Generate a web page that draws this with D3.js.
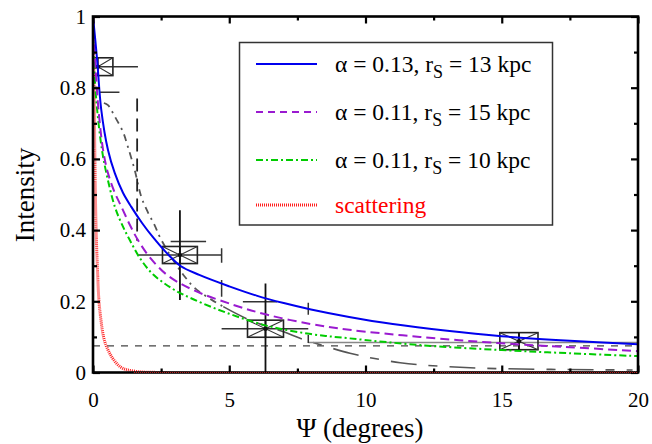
<!DOCTYPE html>
<html>
<head>
<meta charset="utf-8">
<script src="https://cdn.jsdelivr.net/npm/d3@7"></script>
<style>
  html, body { margin: 0; padding: 0; background: #fff; }
  svg { display: block; }
</style>
</head>
<body>
<svg id="chart" width="652" height="444"></svg>
<script>
const FONT = "'Liberation Serif', 'DejaVu Serif', serif";

// Axis ticks
const psiTicks = [0, 5, 10, 15, 20];
const psiMinor = [2.5, 7.5, 12.5, 17.5];
const intensityTicks = [0, 0.2, 0.4, 0.6, 0.8, 1];
const intensityMinor = [0.1, 0.3, 0.5, 0.7, 0.9];

// Model curves: [psi (deg), intensity]
const modelA = [[0,1],[0.15,0.88],[0.3,0.74],[0.55,0.625],[0.8,0.56],[1.1,0.505],[1.4,0.466],[1.8,0.42],[2.2,0.38],[2.7,0.336],[3.2,0.30],[3.9,0.274],[5,0.242],[6,0.216],[7,0.195],[8,0.177],[9.4,0.156],[11,0.136],[13,0.117],[15,0.102],[17.5,0.089],[20,0.079]];
const modelB = [[0,1],[0.1,0.85],[0.2,0.74],[0.37,0.625],[0.55,0.56],[0.8,0.505],[1.04,0.466],[1.35,0.415],[1.65,0.372],[2.1,0.322],[2.75,0.272],[3.7,0.231],[5.15,0.19],[6.4,0.162],[8,0.136],[9.4,0.12],[12,0.10],[15,0.082],[17.5,0.071],[20,0.06]];
const modelC = [[0,1],[0.05,0.85],[0.15,0.74],[0.33,0.625],[0.49,0.56],[0.8,0.466],[1.05,0.418],[1.35,0.372],[1.75,0.318],[2.2,0.276],[2.9,0.236],[3.7,0.205],[5,0.165],[6.4,0.131],[8,0.108],[9.4,0.096],[12,0.077],[15,0.063],[17.5,0.054],[20,0.046]];
const scattering = [[0,1],[0.04,0.8],[0.07,0.6],[0.1,0.45],[0.15,0.32],[0.26,0.168],[0.5,0.072],[1.0,0.016],[1.5,0.004],[2.5,0],[20,0]];

// Measured profile (grey trace)
const traceUpper = [[0.40,0.757],[0.55,0.751],[0.80,0.719],[1.10,0.676],[1.28,0.634],[1.53,0.569],[1.77,0.494],[2.02,0.449],[2.26,0.414],[2.45,0.381],[2.94,0.316],[3.37,0.269],[3.74,0.237],[4.36,0.204],[4.78,0.185]];
const traceLower = [[4.78,0.185],[5.76,0.147],[6.97,0.115],[7.6,0.096],[7.96,0.087],[9.43,0.054],[10.28,0.040],[11.27,0.0275],[12.1,0.021],[14.3,0.012],[19.8,0.007]];

// Binned points: centre, box half-sizes, error bar extents
const binPsi = [0.18, 3.19, 6.33, 15.63];
const binI = [0.859, 0.330, 0.123, 0.088];
const binHalfW = [0.55, 0.64, 0.66, 0.70];
const binHalfH = [0.025, 0.024, 0.024, 0.024];
const binXerr = [[0, 1.65], [1.66, 4.72], [4.72, 7.9], [15.63, 15.63]];
const binYerr = [[0.859, 0.859], [0.204, 0.456], [0, 0.25], [0.064, 0.112]];

// Extra reference segments: [psi0, I0, psi1, I1]
const guideSegments = [
  [0.25, 0.787, 0.97, 0.787],
  [2.85, 0.368, 4.15, 0.368],
  [5.5, 0.199, 6.75, 0.199],
  [4.72, 0.26, 4.72, 0.213],
  [4.72, 0.349, 4.72, 0.308],
  [7.9, 0.196, 7.9, 0.162],
  [7.9, 0.105, 7.9, 0.083]
];
const levelLine = [7.9, 0.084, 20, 0.084];
const dashedVertical = [1.62, 0.77, 1.62, 0.37];
const baselineLevel = 0.075;

// Legend entries
const legendAlpha = ["0.13", "0.11", "0.11"];
const legendRs = ["13", "15", "10"];

const svg = d3.select("#chart");
const x = d3.scaleLinear().domain([0, 20]).range([93, 638]);
const y = d3.scaleLinear().domain([0, 1]).range([372.5, 16.5]);

svg.append("defs").append("clipPath").attr("id", "plotClip")
  .append("rect").attr("x", 93).attr("y", 16.5).attr("width", 545).attr("height", 356);

const plot = svg.append("g").attr("clip-path", "url(#plotClip)");
const line = d3.line().x(d => x(d[0])).y(d => y(d[1])).curve(d3.curveCatmullRom.alpha(0.5));

// baseline dashed level
plot.append("line")
  .attr("x1", x(0)).attr("x2", x(20)).attr("y1", y(baselineLevel)).attr("y2", y(baselineLevel))
  .attr("stroke", "#444").attr("stroke-width", 1.3).attr("stroke-dasharray", "7,7");

// grey measured trace
plot.append("path").datum(traceUpper).attr("d", line)
  .attr("fill", "none").attr("stroke", "#555").attr("stroke-width", 1.8)
  .attr("stroke-dasharray", "7,5,2,5");
plot.append("path").datum(traceLower).attr("d", line)
  .attr("fill", "none").attr("stroke", "#555").attr("stroke-width", 1.6)
  .attr("stroke-dasharray", "26,12,9,12");

// flat level to the right
plot.append("line")
  .attr("x1", x(levelLine[0])).attr("y1", y(levelLine[1])).attr("x2", x(levelLine[2])).attr("y2", y(levelLine[3]))
  .attr("stroke", "#888").attr("stroke-width", 1.5);

// guide segments
plot.selectAll("line.guide").data(guideSegments).join("line").attr("class", "guide")
  .attr("x1", d => x(d[0])).attr("y1", d => y(d[1])).attr("x2", d => x(d[2])).attr("y2", d => y(d[3]))
  .attr("stroke", "#333").attr("stroke-width", 1.5);

plot.append("line")
  .attr("x1", x(dashedVertical[0])).attr("y1", y(dashedVertical[1]))
  .attr("x2", x(dashedVertical[2])).attr("y2", y(dashedVertical[3]))
  .attr("stroke", "#222").attr("stroke-width", 1.8).attr("stroke-dasharray", "13,7");

// binned points
binPsi.forEach((p, i) => {
  const g = plot.append("g");
  const cx = x(p), cy = y(binI[i]);
  const x0 = x(p - binHalfW[i]), x1 = x(p + binHalfW[i]);
  const y0 = y(binI[i] + binHalfH[i]), y1 = y(binI[i] - binHalfH[i]);
  g.append("line").attr("x1", x(binXerr[i][0])).attr("x2", x(binXerr[i][1])).attr("y1", cy).attr("y2", cy)
    .attr("stroke", "#333").attr("stroke-width", 1.5);
  g.append("line").attr("x1", cx).attr("x2", cx).attr("y1", y(binYerr[i][0])).attr("y2", y(binYerr[i][1]))
    .attr("stroke", "#111").attr("stroke-width", 1.8);
  g.append("rect").attr("x", x0).attr("y", y0).attr("width", x1 - x0).attr("height", y1 - y0)
    .attr("fill", "none").attr("stroke", "#222").attr("stroke-width", 1.6);
  g.append("path").attr("d", `M${x0},${y0}L${x1},${y1}M${x0},${y1}L${x1},${y0}`)
    .attr("stroke", "#333").attr("stroke-width", 1.1);
  g.append("line").attr("x1", cx).attr("x2", cx).attr("y1", y0).attr("y2", y1)
    .attr("stroke", "#111").attr("stroke-width", 1.6);
  g.append("circle").attr("cx", cx).attr("cy", cy).attr("r", 2.2).attr("fill", "#111");
});

// model curves
plot.append("path").datum(scattering).attr("d", line)
  .attr("fill", "none").attr("stroke", "#ff2020").attr("stroke-width", 3).attr("stroke-dasharray", "1,1");
plot.append("path").datum(modelC).attr("d", line)
  .attr("fill", "none").attr("stroke", "#00cc00").attr("stroke-width", 2).attr("stroke-dasharray", "7,3,2,3");
plot.append("path").datum(modelB).attr("d", line)
  .attr("fill", "none").attr("stroke", "#9a1ad0").attr("stroke-width", 2).attr("stroke-dasharray", "9,5");
plot.append("path").datum(modelA).attr("d", line)
  .attr("fill", "none").attr("stroke", "#0000ee").attr("stroke-width", 2);

// axes (ticks on all four sides, pointing inward)
function styleAxis(g) {
  g.attr("font-family", FONT);
  g.select(".domain").remove();
  g.selectAll(".tick line").attr("stroke", "#000").attr("stroke-width", 2.2);
  g.selectAll(".tick text").attr("fill", "#000").attr("font-size", 21).attr("font-family", FONT);
}
svg.append("g").attr("transform", "translate(0,372.5)")
  .call(d3.axisBottom(x).tickValues(psiTicks).tickSizeInner(-7).tickSizeOuter(0).tickPadding(20).tickFormat(d3.format("d")))
  .call(styleAxis);
svg.append("g").attr("transform", "translate(0,372.5)")
  .call(d3.axisBottom(x).tickValues(psiMinor).tickSizeInner(-4).tickSizeOuter(0).tickFormat(""))
  .call(styleAxis);
svg.append("g").attr("transform", "translate(0,16.5)")
  .call(d3.axisTop(x).tickValues(psiTicks).tickSizeInner(-7).tickSizeOuter(0).tickFormat(""))
  .call(styleAxis);
svg.append("g").attr("transform", "translate(0,16.5)")
  .call(d3.axisTop(x).tickValues(psiMinor).tickSizeInner(-4).tickSizeOuter(0).tickFormat(""))
  .call(styleAxis);
svg.append("g").attr("transform", "translate(93,0)")
  .call(d3.axisLeft(y).tickValues(intensityTicks).tickSizeInner(-7).tickSizeOuter(0).tickPadding(7)
    .tickFormat(d => d === 0 || d === 1 ? d3.format("d")(d) : d3.format(".1f")(d)))
  .call(styleAxis);
svg.append("g").attr("transform", "translate(93,0)")
  .call(d3.axisLeft(y).tickValues(intensityMinor).tickSizeInner(-4).tickSizeOuter(0).tickFormat(""))
  .call(styleAxis);
svg.append("g").attr("transform", "translate(638,0)")
  .call(d3.axisRight(y).tickValues(intensityTicks).tickSizeInner(-7).tickSizeOuter(0).tickFormat(""))
  .call(styleAxis);
svg.append("g").attr("transform", "translate(638,0)")
  .call(d3.axisRight(y).tickValues(intensityMinor).tickSizeInner(-4).tickSizeOuter(0).tickFormat(""))
  .call(styleAxis);

// frame
svg.append("rect").attr("x", 93).attr("y", 16.5).attr("width", 545).attr("height", 356)
  .attr("fill", "none").attr("stroke", "#000").attr("stroke-width", 2.6);

// scattering curve also runs along the floor
svg.append("line").attr("x1", x(1.5)).attr("x2", x(20)).attr("y1", 372.5).attr("y2", 372.5)
  .attr("stroke", "#ff3030").attr("stroke-width", 1).attr("stroke-dasharray", "1,1").attr("opacity", 0.8);

// axis titles
svg.append("text").attr("x", 360).attr("y", 437).attr("text-anchor", "middle").attr("font-family", FONT)
  .attr("font-size", 27).attr("fill", "#000").text("\u03A8 (degrees)");
svg.append("text").attr("transform", "translate(34,195) rotate(-90)").attr("text-anchor", "middle").attr("font-family", FONT)
  .attr("font-size", 27).attr("fill", "#000").text("Intensity");

// legend
const legend = svg.append("g").attr("font-family", FONT);
legend.append("rect").attr("x", 239.5).attr("y", 42.5).attr("width", 313).attr("height", 182.5)
  .attr("fill", "#fff").attr("stroke", "#333").attr("stroke-width", 1.5);
const rowY = [64, 112, 160, 205];
const swatch = [
  { stroke: "#0000ee", dash: null, w: 2 },
  { stroke: "#9a1ad0", dash: "7,5", w: 2 },
  { stroke: "#00cc00", dash: "7,3,2,3", w: 2 },
  { stroke: "#ff2020", dash: "1,1", w: 3 }
];
swatch.forEach((s, i) => {
  legend.append("line").attr("x1", 256).attr("x2", 317).attr("y1", rowY[i]).attr("y2", rowY[i])
    .attr("stroke", s.stroke).attr("stroke-width", s.w).attr("stroke-dasharray", s.dash);
});
legendAlpha.forEach((a, i) => {
  const t = legend.append("text").attr("x", 335).attr("y", rowY[i] + 8).attr("font-size", 23.5).attr("fill", "#000");
  t.append("tspan").text(`\u03B1 = ${a}, r`);
  t.append("tspan").attr("font-size", 18).attr("dy", 6).text("S");
  t.append("tspan").attr("dy", -6).text(` = ${legendRs[i]} kpc`);
});
legend.append("text").attr("x", 335).attr("y", rowY[3] + 8).attr("font-size", 23.5).attr("fill", "#ff0000").text("scattering");
</script>
</body>
</html>
